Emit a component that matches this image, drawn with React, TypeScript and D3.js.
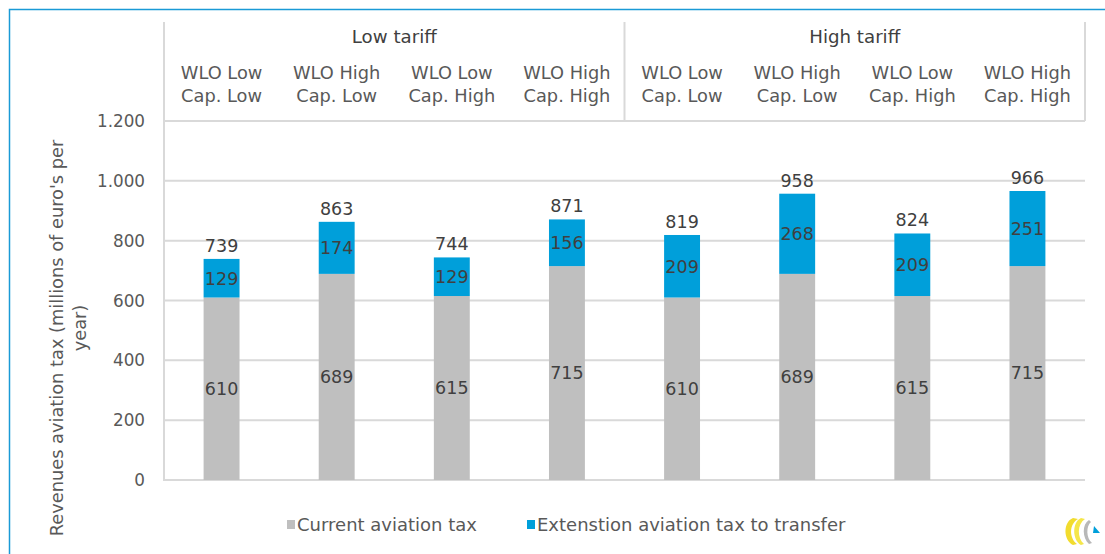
import React from 'react';
import * as d3 from 'd3';

const groups = ['Low tariff', 'High tariff'];
const categories = [
  ['WLO Low', 'Cap. Low'],
  ['WLO High', 'Cap. Low'],
  ['WLO Low', 'Cap. High'],
  ['WLO High', 'Cap. High'],
  ['WLO Low', 'Cap. Low'],
  ['WLO High', 'Cap. Low'],
  ['WLO Low', 'Cap. High'],
  ['WLO High', 'Cap. High'],
];
const currentTax = [610, 689, 615, 715, 610, 689, 615, 715];
const extensionTax = [129, 174, 129, 156, 209, 268, 209, 251];
const totals = [739, 863, 744, 871, 819, 958, 824, 966];
const yTicks = [0, 200, 400, 600, 800, 1000, 1200];
const seriesNames = ['Current aviation tax', 'Extenstion aviation tax to transfer'];

const GREY = '#bfbfbf';
const BLUE = '#009fda';
const GRID = '#d9d9d9';
const TEXT = '#404040';
const FONT = 'DejaVu Sans';

const App = () => {
  const left = 164;
  const right = 1085;
  const top = 121;
  const bottom = 480;

  const y = d3.scaleLinear().domain([0, 1200]).range([bottom, top]);
  const x = d3
    .scaleBand<number>()
    .domain(d3.range(categories.length))
    .range([left, right])
    .paddingInner(0.688)
    .paddingOuter(0.344);
  const groupX = d3.scaleBand<number>().domain(d3.range(groups.length)).range([left, right]);
  const fmt = (v: number) => d3.format(',')(v).replace(/,/g, '.');

  return (
    <svg
      width={1105}
      height={554}
      style={{ position: 'absolute', left: 0, top: 0, background: '#fff' }}
      fontFamily={FONT}
    >
      {/* frame */}
      <path d="M9.5,554 V9.5 H1105" fill="none" stroke="#1a9ad6" strokeWidth={1.5} />

      {/* grid lines */}
      {yTicks.map((t) => (
        <line key={t} x1={left} x2={right} y1={y(t)} y2={y(t)} stroke={GRID} strokeWidth={2} />
      ))}
      {/* axis + header separators */}
      <line x1={left} x2={left} y1={22} y2={bottom + 1} stroke={GRID} strokeWidth={2} />
      {[0, 1, 2].map((i) => {
        const xx = i < 2 ? groupX(i)! : right;
        return <line key={i} x1={xx} x2={xx} y1={22} y2={top} stroke={GRID} strokeWidth={2} />;
      })}

      {/* y tick labels */}
      {yTicks.map((t) => (
        <text key={t} x={145} y={y(t)} dy="0.36em" textAnchor="end" fontSize={16.8} fill="#595959">
          {fmt(t)}
        </text>
      ))}

      {/* group headers */}
      {groups.map((g, i) => (
        <text
          key={g}
          x={groupX(i)! + groupX.bandwidth() / 2}
          y={43}
          textAnchor="middle"
          fontSize={18.2}
          fill={TEXT}
        >
          {g}
        </text>
      ))}
      {/* category headers */}
      {categories.map((c, i) => (
        <text key={i} x={x(i)! + x.bandwidth() / 2} textAnchor="middle" fontSize={17.8} fill="#595959">
          <tspan x={x(i)! + x.bandwidth() / 2} y={79}>{c[0]}</tspan>
          <tspan x={x(i)! + x.bandwidth() / 2} y={102}>{c[1]}</tspan>
        </text>
      ))}

      {/* bars */}
      {categories.map((_, i) => {
        const cx = x(i)! + x.bandwidth() / 2;
        const c = currentTax[i];
        const e = extensionTax[i];
        return (
          <g key={i}>
            <rect x={x(i)} width={x.bandwidth()} y={y(c)} height={y(0) - y(c)} fill={GREY} />
            <rect x={x(i)} width={x.bandwidth()} y={y(c + e)} height={y(c) - y(c + e)} fill={BLUE} />
            <text x={cx} y={y(c / 2)} dy="0.36em" textAnchor="middle" fontSize={17.5} fill={TEXT}>
              {c}
            </text>
            <text x={cx} y={y(c + e / 2)} dy="0.36em" textAnchor="middle" fontSize={17.5} fill={TEXT}>
              {e}
            </text>
            <text x={cx} y={y(c + e) - 7} textAnchor="middle" fontSize={17.5} fill={TEXT}>
              {totals[i]}
            </text>
          </g>
        );
      })}

      {/* y axis title */}
      <text transform="translate(63,338) rotate(-90)" textAnchor="middle" fontSize={17.8} fill="#595959">
        Revenues aviation tax (millions of euro's per
      </text>
      <text transform="translate(86,328) rotate(-90)" textAnchor="middle" fontSize={17.8} fill="#595959">
        year)
      </text>

      {/* legend */}
      {seriesNames.map((s, i) => {
        const lx = i === 0 ? 287 : 527;
        return (
          <g key={s}>
            <rect x={lx} y={520} width={8} height={9} fill={i === 0 ? GREY : BLUE} />
            <text x={lx + 10} y={531} fontSize={18} fill="#595959">
              {s}
            </text>
          </g>
        );
      })}

      {/* logo */}
      <g transform="translate(1062,516)">
        <path d="M11,2 C1,6 1,24 11,29 L15,28 C7,22 7,8 16,3 Z" fill="#f2dc2e" />
        <path d="M19,2 C10,6 10,24 19,29 L22,28 C15,22 15,8 23,3 Z" fill="#f5e64a" />
        <path d="M27,4 C20,8 20,22 27,28 L30,27 C24,22 24,10 29,6 Z" fill="#b8b8b8" />
        <path d="M32,10 L38,17 L31,17 Z" fill={BLUE} />
      </g>
    </svg>
  );
};

export default App;
